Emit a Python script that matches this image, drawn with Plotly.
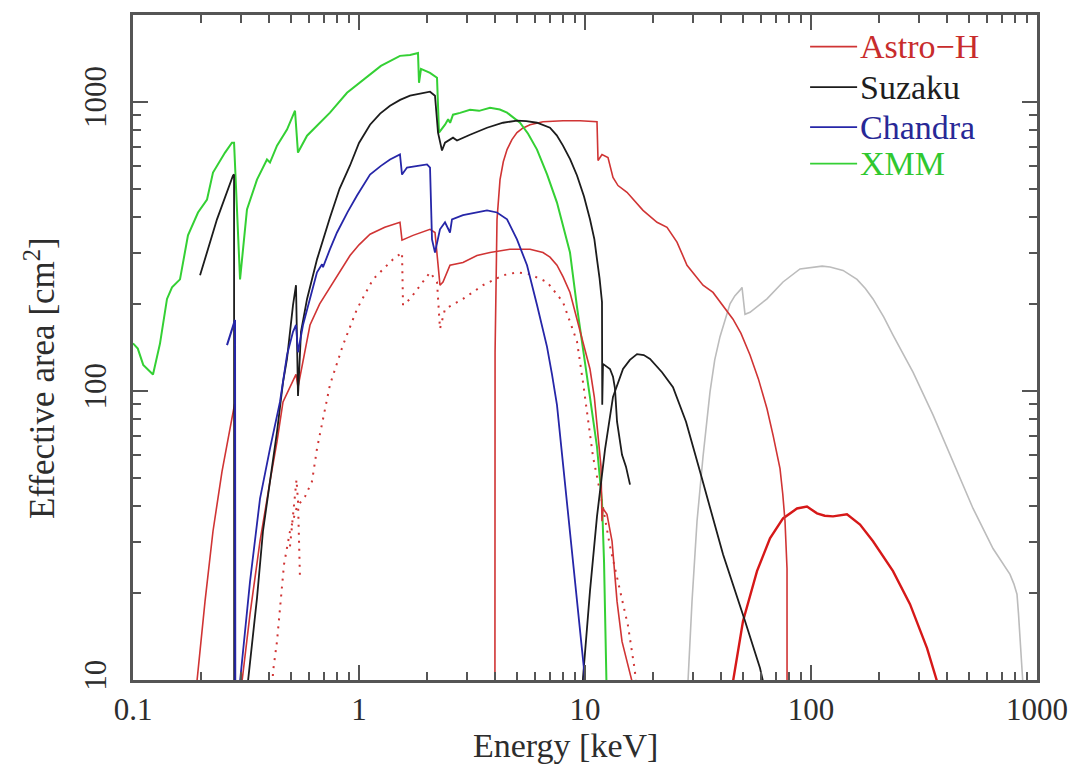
import plotly.graph_objects as go

# ---------------------------------------------------------------------------
# Effective area curves: energy in keV, area in cm^2
# (values below 10 cm^2 simply run off the bottom of the log axis)
# ---------------------------------------------------------------------------

# XMM-Newton
xmm_e = [0.100, 0.105, 0.111, 0.1226, 0.1317, 0.1414, 0.1488, 0.1614, 0.1751, 0.1939,
         0.2126, 0.2259, 0.2554, 0.274, 0.280, 0.2886, 0.2976, 0.3194, 0.3537, 0.3916,
         0.4038, 0.4337, 0.4802, 0.521, 0.537, 0.589, 0.744, 0.885, 1.042, 1.25,
         1.518, 1.682, 1.824, 1.843, 1.881, 2.062, 2.214, 2.259, 2.402, 2.48,
         2.53, 2.606, 2.80, 3.099, 3.40, 3.799, 4.20, 4.519, 5.157, 5.6,
         6.133, 6.8, 7.516, 8.0, 8.583, 9.218, 9.80, 10.52, 11.30, 11.89,
         12.14, 12.26, 12.39, 12.51]
xmm_a = [146, 140, 123, 114, 146, 208, 228, 243, 345, 414,
         459, 569, 667, 722, 722, 392, 243, 424, 538, 631,
         616, 705, 801, 931, 667, 763, 917, 1074, 1191, 1330,
         1441, 1452, 1475, 1163, 1299, 1259, 1210, 782, 833, 870,
         845, 902, 915, 938, 930, 953, 940, 917, 846, 775,
         683, 560, 448, 370, 301, 195, 142, 95, 64, 41.4,
         25.7, 16.0, 9.9, 8.0]

# Suzaku XIS: short piece below the carbon edge, then the main curve
suzaku_lo_e = [0.198, 0.2353, 0.277, 0.2800, 0.2805]
suzaku_lo_a = [251, 392, 556, 560, 1]

suzaku_xis_e = [0.318, 0.3227, 0.3537, 0.3759, 0.4038, 0.4337, 0.461, 0.4802, 0.5105, 0.5263,
                0.5372, 0.5537, 0.589, 0.652, 0.744, 0.82, 0.9125, 1.0, 1.119, 1.24,
                1.372, 1.52, 1.682, 1.919, 2.062, 2.169, 2.237, 2.329, 2.402, 2.606,
                2.714, 3.099, 3.685, 4.338, 5.002, 5.5, 6.133, 6.999, 7.5, 7.99,
                8.6, 9.218, 9.9, 10.52, 11.0, 11.30, 11.6, 11.89, 11.92, 12.01,
                12.90, 13.30, 13.57, 13.86, 14.29, 14.58, 15.18, 15.82]
suzaku_xis_a = [8, 9.9, 19.2, 32.7, 48.6, 72.2, 107, 129, 198, 232,
                96, 160, 208, 285, 398, 500, 602, 720, 833, 910,
                969, 1015, 1049, 1074, 1083, 1049, 782, 678, 722, 751,
                734, 769, 813, 846, 860, 857, 846, 813, 765, 705,
                632, 556, 470, 392, 335, 285, 245, 203, 89.5, 124,
                119, 112, 102, 78.2, 66.7, 60.1, 54.7, 47.4]

# Suzaku HXD
suzaku_hxd_e = [9.70, 9.80, 10.52, 11.30, 12.26, 13.30, 14.73, 15.8, 16.99, 18.2,
                19.40, 21.91, 24.51, 27.99, 32.28, 40.8, 51.05, 59.47, 61.32, 62.5]
suzaku_hxd_a = [8, 10.2, 20.3, 36.8, 62.6, 95.3, 119, 128, 134, 133,
                129, 116, 103, 78.2, 52.6, 27.2, 16.0, 11.0, 9.9, 8]

# Chandra
chandra_lo_e = [0.2606, 0.2827, 0.2840]
chandra_lo_a = [144, 176, 1]

chandra_e = [0.295, 0.2976, 0.3294, 0.3648, 0.4038, 0.447, 0.4802, 0.5105, 0.5263, 0.5372,
             0.5652, 0.6518, 0.6861, 0.6931, 0.744, 0.7993, 0.89, 0.98, 1.119, 1.25,
             1.372, 1.518, 1.550, 1.631, 2.0, 2.062, 2.104, 2.169, 2.282, 2.402,
             2.527, 2.579, 2.885, 3.327, 3.685, 4.08, 4.519, 5.0, 5.539, 6.133,
             6.791, 7.145, 7.516, 7.99, 8.583, 9.218, 9.699, 9.899, 10.1]
chandra_a = [8, 9.9, 21.9, 42.4, 63.1, 91.6, 133, 160, 169, 136,
             169, 257, 274, 268, 309, 353, 415, 474, 560, 600,
             631, 657, 560, 592, 607, 592, 334, 301, 362, 383,
             353, 392, 405, 414, 421, 414, 392, 334, 272, 198,
             142, 114, 89.5, 56.0, 32.7, 19.0, 12.8, 10.9, 8.5]

# Astro-H soft X-ray telescope, solid curve
astroh_sxi_lo_e = [0.190, 0.1919, 0.2083, 0.2259, 0.2476, 0.2686, 0.2827, 0.2835]
astroh_sxi_lo_a = [8, 9.9, 18.7, 32.7, 52.6, 75.1, 91.6, 1]

astroh_sxi_e = [0.300, 0.3037, 0.3294, 0.3648, 0.4038, 0.4337, 0.461, 0.4951, 0.5263, 0.5372,
                0.607, 0.67, 0.744, 0.83, 0.9125, 1.0, 1.119, 1.3, 1.518, 1.550,
                1.734, 2.062, 2.169, 2.282, 2.353, 2.527, 2.885, 3.327, 3.799, 4.658,
                5.71, 6.52, 7.0, 7.516, 8.0, 8.583, 9.218, 9.9, 10.52, 11.0,
                11.42, 11.77, 11.89, 12.01, 12.51, 13.17, 13.86, 14.58, 15.34, 16.14,
                16.5]
astroh_sxi_a = [8, 9.9, 16.9, 30.2, 48.6, 66.7, 91.6, 103, 114, 103,
                169, 200, 228, 262, 294, 320, 348, 368, 383, 332,
                345, 362, 353, 232, 238, 272, 278, 294, 301, 309,
                309, 301, 290, 272, 248, 219, 177, 146, 119, 95,
                72.2, 54.7, 35.4, 39.2, 37.4, 30.2, 18.7, 13.6, 11.6, 9.9,
                8]

# Astro-H soft X-ray telescope, dotted curve
astroh_sxs_e = [0.410, 0.4165, 0.4337, 0.4517, 0.4658, 0.4951, 0.5317, 0.5771, 0.6194, 0.6518,
                0.6931, 0.744, 0.8495, 0.98, 1.153, 1.414, 1.550, 1.566, 1.682, 2.062,
                2.214, 2.282, 2.402, 2.885, 3.538, 4.338, 5.0, 5.71, 6.791, 7.99,
                9.218, 9.80, 10.85, 11.89, 12.90, 14.29, 15.50, 16.64, 17.0]
astroh_sxs_a = [8, 10.7, 13.6, 18.7, 25.1, 32.7, 39.8, 43.1, 48.6, 63.1,
                80.1, 105, 144, 192, 243, 285, 301, 198, 208, 257,
                238, 164, 192, 208, 232, 251, 257, 253, 238, 203,
                148, 107, 59.2, 41.4, 29.0, 20.3, 15.4, 10.7, 8]

astroh_sxs_b_e = [0.4951, 0.5105, 0.5290, 0.5372, 0.5454, 0.5482]
astroh_sxs_b_a = [29.0, 36.8, 49.3, 41.4, 27.9, 22.3]

# Astro-H hard X-ray imager
astroh_hxi_e = [3.99, 4.0, 4.08, 4.207, 4.35, 4.519, 4.75, 5.0, 5.3, 5.71,
                6.52, 7.99, 9.5, 11.3, 11.42, 11.89, 12.64, 13.3, 14.0, 15.34,
                18.06, 20.83, 23.06, 25.53, 28.27, 30.06, 33.28, 36.85, 39.57, 45.18,
                49.0, 53.72, 58.5, 63.87, 68.0, 72.93, 75.0, 76.74, 78.32, 78.4]
astroh_hxi_a = [1, 136, 392, 538, 620, 683, 740, 782, 810, 833,
                853, 860, 860, 853, 626, 657, 641, 547, 513, 486,
                421, 383, 368, 327, 272, 257, 232, 219, 203, 177,
                158, 133, 110, 86.7, 70, 53.8, 44, 35.4, 24.3, 1]

# Astro-H soft gamma-ray detector (thick red)
astroh_sgd_e = [44.5, 45.18, 50.03, 57.69, 65.85, 75.19, 86.7, 96.0, 106.3, 115.0,
                125.1, 144.3, 164.8, 188.1, 230.6, 274.2, 326.1, 361.0, 370.0]
astroh_sgd_a = [8, 9.9, 16.0, 23.8, 30.9, 36.2, 39.2, 39.8, 37.7, 37.0,
                36.8, 37.4, 34.5, 30.2, 23.8, 18.3, 12.9, 9.9, 8]

# Grey hard X-ray curve
gray_e = [28.3, 28.56, 29.75, 31.31, 33.28, 35.74, 37.5, 39.57, 43.82, 46.0,
          48.52, 49.52, 51.05, 53.72, 63.87, 75.19, 89.4, 102.0, 112.0, 121.4,
          138.6, 159.8, 174.0, 188.1, 210.0, 230.6, 282.7, 346.6, 425.0, 521.2,
          638.8, 759.5, 790.0, 815.6, 828.0, 840.9, 867.1, 880.0]
gray_a = [8, 9.9, 18.7, 35.4, 59.2, 99.2, 128, 154, 200, 213,
          223, 228, 184, 187, 208, 238, 264, 268, 270, 268,
          261, 243, 226, 208, 180, 156, 116, 82.6, 56.9, 39.2,
          28.5, 23.2, 21.5, 19.8, 17.0, 14.0, 9.9, 8]

# Axis ticks
x_tick_vals = [0.1, 1, 10, 100, 1000]
x_tick_text = ["0.1", "1", "10", "100", "1000"]
y_tick_vals = [10, 100, 1000]
y_tick_text = ["10", "100", "1000"]

# Legend entries
legend_names = ["Astro\u2212H", "Suzaku", "Chandra", "XMM"]

RED = "rgb(208,52,52)"
RED_THICK = "rgb(214,24,24)"
BLACK = "rgb(28,28,28)"
BLUE = "rgb(38,38,168)"
GREEN = "rgb(52,208,52)"
GRAY = "rgb(188,188,188)"
AXIS = "rgb(85,85,85)"
legend_colors = [RED, BLACK, BLUE, GREEN]
legend_text_colors = ["rgb(200,44,44)", "rgb(30,30,30)", "rgb(40,40,150)", "rgb(48,200,48)"]

FONT = "Liberation Serif, Times New Roman, serif"

fig = go.Figure()


def add_line(e, a, color, width=1.8, dash=None):
    fig.add_trace(go.Scatter(
        x=e, y=a, mode="lines",
        line=dict(color=color, width=width, dash=dash),
        showlegend=False, hoverinfo="skip",
    ))


add_line(gray_e, gray_a, GRAY, 1.6)
add_line(astroh_sgd_e, astroh_sgd_a, RED_THICK, 2.4)
add_line(astroh_hxi_e, astroh_hxi_a, RED, 1.6)
add_line(astroh_sxs_e, astroh_sxs_a, RED, 2.0, "2px,6px")
add_line(astroh_sxs_b_e, astroh_sxs_b_a, RED, 2.0, "2px,6px")
add_line(xmm_e, xmm_a, GREEN, 2.0)
add_line(astroh_sxi_lo_e, astroh_sxi_lo_a, RED, 1.6)
add_line(astroh_sxi_e, astroh_sxi_a, RED, 1.6)
add_line(suzaku_lo_e, suzaku_lo_a, BLACK, 1.8)
add_line(suzaku_xis_e, suzaku_xis_a, BLACK, 1.8)
add_line(suzaku_hxd_e, suzaku_hxd_a, BLACK, 1.8)
add_line(chandra_lo_e, chandra_lo_a, BLUE, 2.0)
add_line(chandra_e, chandra_a, BLUE, 1.8)

# Minor ticks at 2..9 within each decade
minor_x = [m * 10.0 ** k for k in range(-1, 3) for m in range(2, 10)]
minor_y = [m * 10.0 ** k for k in range(1, 4) for m in range(2, 10)]

axis_style = dict(
    type="log", showline=True, linecolor=AXIS, linewidth=2.5, mirror="ticks",
    ticks="inside", ticklen=15, tickwidth=1.6, tickcolor=AXIS,
    showgrid=False, zeroline=False,
    tickfont=dict(family=FONT, size=31, color="rgb(45,45,45)"),
)

fig.update_xaxes(
    **axis_style, range=[-1, 3], tickmode="array",
    tickvals=x_tick_vals, ticktext=x_tick_text, ticklabelstandoff=0,
    minor=dict(tickmode="array", tickvals=minor_x, ticks="inside", ticklen=8,
               tickwidth=1.5, tickcolor=AXIS, showgrid=False),
)
fig.update_yaxes(
    **axis_style, range=[1, 3.3], tickmode="array",
    tickvals=y_tick_vals, ticktext=y_tick_text, tickangle=-90, ticklabelstandoff=12,
    minor=dict(tickmode="array", tickvals=minor_y, ticks="inside", ticklen=8,
               tickwidth=1.5, tickcolor=AXIS, showgrid=False),
)

annotations = [
    dict(text="Energy [keV]", x=0.478, y=-0.0985, xref="paper", yref="paper",
         showarrow=False, xanchor="center", yanchor="middle",
         font=dict(family=FONT, size=34, color="rgb(45,45,45)")),
    dict(text="Effective area [cm<sup>2</sup>]", x=-0.103, y=0.454, xref="paper", yref="paper",
         showarrow=False, xanchor="center", yanchor="middle", textangle=-90,
         font=dict(family=FONT, size=35, color="rgb(45,45,45)")),
]
shapes = []

# Legend drawn in the upper right corner of the frame
row_y = [0.9525, 0.8915, 0.8315, 0.7765]
for name, lc, tc, yy in zip(legend_names, legend_colors, legend_text_colors, row_y):
    shapes.append(dict(type="line", xref="paper", yref="paper",
                       x0=0.749, x1=0.801, y0=yy, y1=yy,
                       line=dict(color=lc, width=1.8)))
    annotations.append(dict(text=name, x=0.802, y=yy, xref="paper", yref="paper",
                            showarrow=False, xanchor="left", yanchor="middle",
                            font=dict(family=FONT, size=34, color=tc)))

fig.update_layout(
    width=1085, height=769,
    margin=dict(l=133, r=48, t=12, b=89),
    paper_bgcolor="white", plot_bgcolor="white",
    showlegend=False,
    annotations=annotations, shapes=shapes,
)

fig.write_html("out.html")
